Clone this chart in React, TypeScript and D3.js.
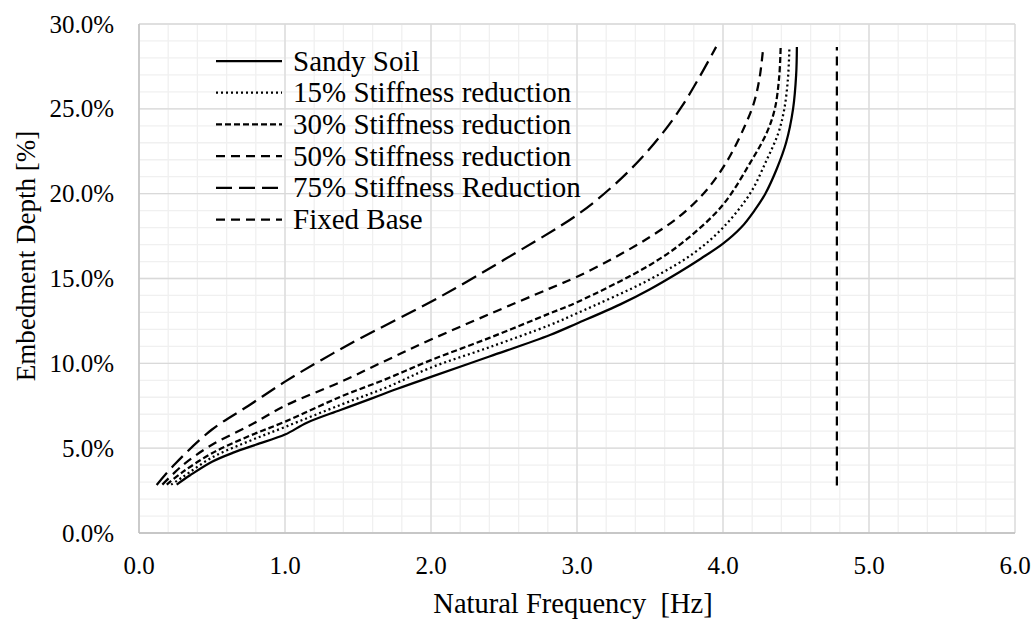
import React from "react";
import * as d3 from "d3";

// ---- data (x = natural frequency Hz, y = embedment depth %) ----
const sandyX = [0.258, 0.35, 0.5, 0.65, 0.8, 1.0, 1.15, 1.38, 1.6, 1.77, 2.0, 2.4, 2.815, 3.0, 3.3, 3.5, 3.7, 3.85, 4.0, 4.124, 4.215, 4.29, 4.37, 4.432, 4.48, 4.501, 4.506];
const sandyY = [2.85, 3.4, 4.2, 4.75, 5.2, 5.8, 6.5, 7.25, 7.95, 8.5, 9.2, 10.4, 11.67, 12.35, 13.49, 14.37, 15.37, 16.18, 17.05, 18.0, 19.0, 20.0, 21.5, 23.0, 25.0, 27.0, 28.65];

const red15X = [0.22, 0.3, 0.5, 0.75, 1.0, 1.38, 1.7, 2.0, 2.4, 2.815, 3.0, 3.5, 3.8, 4.0, 4.185, 4.3, 4.38, 4.42, 4.445, 4.455];
const red15Y = [2.85, 3.3, 4.45, 5.4, 6.25, 7.55, 8.6, 9.75, 10.95, 12.26, 12.95, 14.95, 16.5, 18.0, 20.0, 22.0, 23.6, 25.0, 26.8, 28.65];

const red30X = [0.19, 0.3, 0.5, 0.75, 1.0, 1.38, 1.7, 2.0, 2.4, 2.815, 3.0, 3.5, 3.75, 4.0, 4.185, 4.3, 4.355, 4.385, 4.395];
const red30Y = [2.85, 3.6, 4.7, 5.7, 6.56, 8.03, 9.1, 10.19, 11.5, 12.95, 13.6, 15.8, 17.3, 19.35, 21.8, 23.6, 25.0, 26.9, 28.65];

const red50X = [0.16, 0.3, 0.5, 0.75, 1.0, 1.38, 1.7, 2.0, 2.4, 2.815, 3.0, 3.25, 3.5, 3.7, 3.85, 3.95, 4.05, 4.15, 4.21, 4.25, 4.276];
const red50Y = [2.85, 4.0, 5.2, 6.3, 7.5, 8.9, 10.2, 11.4, 12.9, 14.42, 15.1, 16.2, 17.45, 18.65, 19.85, 20.9, 22.25, 24.0, 25.3, 26.8, 28.65];

const red75X = [0.121, 0.25, 0.5, 0.75, 1.0, 1.25, 1.5, 2.0, 2.245, 2.5, 3.0, 3.232, 3.424, 3.584, 3.718, 3.84, 3.953];
const red75Y = [2.83, 4.1, 6.1, 7.5, 8.92, 10.2, 11.4, 13.63, 14.81, 16.1, 18.74, 20.34, 21.94, 23.54, 25.14, 26.89, 28.65];

const fixedX = [4.78, 4.78];
const fixedY = [2.8, 28.65];

const seriesNames = [
  "Sandy Soil",
  "15% Stiffness reduction",
  "30% Stiffness reduction",
  "50% Stiffness reduction",
  "75% Stiffness Reduction",
  "Fixed Base",
];

const xTicks = [0, 1, 2, 3, 4, 5, 6];
const yTicks = [0, 5, 10, 15, 20, 25, 30];

// ---- layout / styles ----
const W = 1033;
const H = 619;
const left = 139;
const right = 1015;
const top = 24;
const bottom = 533;
const FONT = '"Liberation Serif", Tinos, "Times New Roman", Times, "DejaVu Serif", serif';

const dashes = ["", "2,3", "6,3", "9,6", "16,7", "9,6"];

export default function App() {
  const x = d3.scaleLinear().domain([0, 6]).range([left, right]);
  const y = d3.scaleLinear().domain([0, 30]).range([bottom, top]);

  const allSeries = [
    { xs: sandyX, ys: sandyY },
    { xs: red15X, ys: red15Y },
    { xs: red30X, ys: red30Y },
    { xs: red50X, ys: red50Y },
    { xs: red75X, ys: red75Y },
    { xs: fixedX, ys: fixedY },
  ];

  const line = d3
    .line<[number, number]>()
    .x((d) => x(d[0]))
    .y((d) => y(d[1]))
    .curve(d3.curveCatmullRom.alpha(0.5));

  const minorX = d3.range(0, 6.0001, 0.2);
  const minorY = d3.range(0, 30.0001, 1);

  const legendX1 = 216;
  const legendX2 = 282;
  const legendY0 = 61;
  const legendDy = 31.7;
  const txt = { fontFamily: FONT };

  return (
    <svg width={W} height={H} style={{ display: "block", position: "absolute", left: 0, top: 0 }}>
      <rect x={0} y={0} width={W} height={H} fill="#fff" />
      {minorX.map((v, i) => (
        <line key={"mx" + i} x1={x(v)} x2={x(v)} y1={top} y2={bottom} stroke="#f0f0f0" strokeWidth={1.3} />
      ))}
      {minorY.map((v, i) => (
        <line key={"my" + i} x1={left} x2={right} y1={y(v)} y2={y(v)} stroke="#f0f0f0" strokeWidth={1.3} />
      ))}
      {xTicks.map((v) => (
        <line key={"gx" + v} x1={x(v)} x2={x(v)} y1={top} y2={bottom} stroke="#d9d9d9" strokeWidth={1.3} />
      ))}
      {yTicks.map((v) => (
        <line key={"gy" + v} x1={left} x2={right} y1={y(v)} y2={y(v)} stroke="#d9d9d9" strokeWidth={1.3} />
      ))}
      <line x1={left} x2={right} y1={bottom} y2={bottom} stroke="#bfbfbf" strokeWidth={1.3} />
      <line x1={left} x2={left} y1={top} y2={bottom} stroke="#bfbfbf" strokeWidth={1.3} />

      {allSeries.map((s, i) => (
        <path
          key={"s" + i}
          d={line(s.xs.map((v, j) => [v, s.ys[j]] as [number, number])) || ""}
          fill="none"
          stroke="#000"
          strokeWidth={2.25}
          strokeDasharray={dashes[i] || undefined}
        />
      ))}

      {xTicks.map((v) => (
        <text key={"tx" + v} x={x(v)} y={574} textAnchor="middle" style={txt} fontSize={25} fill="#000">
          {v.toFixed(1)}
        </text>
      ))}
      {yTicks.map((v) => (
        <text key={"ty" + v} x={114} y={y(v) + 8.5} textAnchor="end" style={txt} fontSize={25} fill="#000">
          {v.toFixed(1) + "%"}
        </text>
      ))}

      <text x={573} y={613} textAnchor="middle" style={txt} fontSize={28.5} fill="#000">
        {"Natural Frequency\u00a0\u00a0[Hz]"}
      </text>
      <text transform="translate(35, 256) rotate(-90)" textAnchor="middle" style={txt} fontSize={27} fill="#000">
        Embedment Depth [%]
      </text>

      {seriesNames.map((name, i) => {
        const cy = legendY0 + i * legendDy;
        return (
          <g key={"lg" + i}>
            <line
              x1={legendX1}
              x2={legendX2}
              y1={cy}
              y2={cy}
              stroke="#000"
              strokeWidth={2.25}
              strokeDasharray={dashes[i] || undefined}
            />
            <text x={293} y={cy + 9.5} style={txt} fontSize={29} fill="#000">
              {name}
            </text>
          </g>
        );
      })}
    </svg>
  );
}
